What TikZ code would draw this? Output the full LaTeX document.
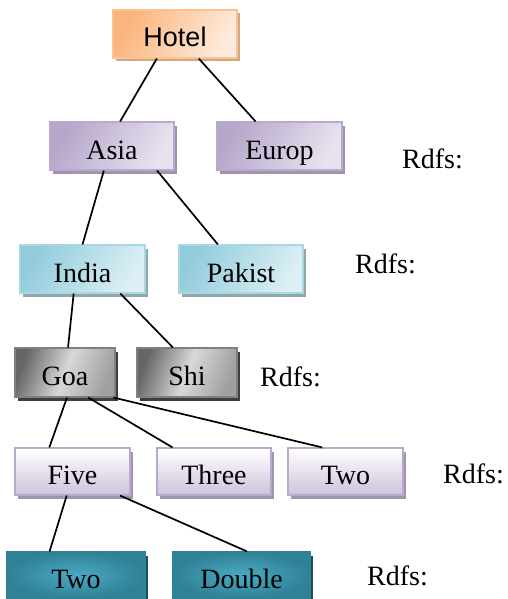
\documentclass[tikz,border=0pt]{standalone}
\usepackage{fontspec}
\setmainfont{Liberation Serif}
\newfontfamily\headsans{Liberation Sans}
\usetikzlibrary{shadows,calc}

% palette
\definecolor{orDark}{HTML}{FAB47C}
\definecolor{orLight}{HTML}{FDEBDD}
\definecolor{orLine}{HTML}{F9C394}
\definecolor{orShade}{HTML}{D3A784}
\definecolor{lvDark}{HTML}{B6A6CA}
\definecolor{lvLight}{HTML}{E8E3EF}
\definecolor{lvLine}{HTML}{B9A9CC}
\definecolor{lvShade}{HTML}{A194B0}
\definecolor{bluDark}{HTML}{92CCDC}
\definecolor{bluLight}{HTML}{DCEFF4}
\definecolor{bluLine}{HTML}{A8D6E3}
\definecolor{bluShade}{HTML}{91A8AF}
\definecolor{gyDark}{HTML}{666666}
\definecolor{gyLight}{HTML}{D8D8D8}
\definecolor{gyLine}{HTML}{808080}
\definecolor{gyShade}{HTML}{3E3E3E}
\definecolor{ltTop}{HTML}{FFFFFF}
\definecolor{ltBot}{HTML}{CEC3DC}
\definecolor{tlOuter}{HTML}{2F8196}
\definecolor{tlInner}{HTML}{4AAAC4}
\definecolor{tlShade}{HTML}{1D4E5B}

\tikzset{
  box/.style={draw, line width=1.1pt, inner sep=0pt, minimum height=48pt,
    text height=26pt, text depth=0pt, font=\fontsize{28}{30}\selectfont},
  shade/.style={drop shadow={shadow xshift=3pt, shadow yshift=-3.5pt,
    fill=#1, opacity=1}},
  orangebox/.style={box, draw=orLine, left color=orDark, right color=orLight,
    shading angle=60, shade=orShade},
  lavbox/.style={box, draw=lvLine, left color=lvDark, right color=lvLight,
    shading angle=60, shade=lvShade},
  bluebox/.style={box, draw=bluLine, left color=bluDark, right color=bluLight,
    shading angle=60, shade=bluShade},
  greybox/.style={box, draw=gyLine, left color=gyDark, right color=gray!75,
    middle color=gyLight, shading angle=70, shade=gyShade},
  palebox/.style={box, draw=lvLine, top color=ltTop, bottom color=ltBot,
    shade=lvShade},
  tealbox/.style={box, draw=tlOuter, inner color=tlInner, outer color=tlOuter,
    shade=tlShade},
  link/.style={line width=1.7pt, black},
  rdfs/.style={anchor=base west, inner sep=0pt, font=\fontsize{28}{30}\selectfont},
}

% edge from a point on the bottom side of #1 to a point on the top side of #3
\newcommand\treelink[4]{%
  \draw[link] ($(#1.south west)!#2!(#1.south east)$) --
              ($(#3.north west)!#4!(#3.north east)$);}

\begin{document}
\begin{tikzpicture}[x=1pt,y=-1pt]
\useasboundingbox (0,0) rectangle (507,599);

% level 0
\node[orangebox, minimum width=124pt, font=\headsans\fontsize{27}{29}\selectfont]
  (hotel) at (175,34) {Hotel};

% level 1
\node[lavbox, minimum width=124pt] (asia)  at (112,146)   {Asia};
\node[lavbox, minimum width=125pt] (europ) at (279.5,146) {Europ};

% level 2
\node[bluebox, minimum width=125pt] (india)  at (82.5,269) {India};
\node[bluebox, minimum width=124pt] (pakist) at (241,269)  {Pakist};

% level 3
\node[greybox, minimum width=100pt, minimum height=49pt] (goa) at (65,372.5)  {Goa};
\node[greybox, minimum width=100pt, minimum height=49pt] (shi) at (187,372.5) {Shi};

% level 4
\node[palebox, minimum width=115pt, minimum height=47pt] (five)  at (72.5,471.5)  {Five};
\node[palebox, minimum width=114pt, minimum height=47pt] (three) at (214,471.5)   {Three};
\node[palebox, minimum width=115pt, minimum height=47pt] (twoA)  at (345.5,471.5) {Two};

% level 5
\node[tealbox, minimum width=138pt, minimum height=46pt] (twoB)   at (76,575)    {Two};
\node[tealbox, minimum width=137pt, minimum height=46pt] (double) at (241.5,575) {Double};

% connectors
\treelink{hotel}{0.355}{asia}{0.565}
\treelink{hotel}{0.69}{europ}{0.31}
\treelink{asia}{0.435}{india}{0.5}
\treelink{asia}{0.86}{pakist}{0.315}
\treelink{india}{0.43}{goa}{0.53}
\treelink{india}{0.8}{shi}{0.36}
\treelink{goa}{0.52}{five}{0.3}
\treelink{goa}{0.73}{three}{0.14}
\treelink{goa}{0.98}{twoA}{0.3}
\treelink{five}{0.45}{twoB}{0.31}
\treelink{five}{0.91}{double}{0.54}

% side labels
\node[rdfs] (r1) at (402,168) {Rdfs:};
\node[rdfs] (r2) at (355,273) {Rdfs:};
\node[rdfs] (r3) at (260,386) {Rdfs:};
\node[rdfs] (r4) at (443,483) {Rdfs:};
\node[rdfs] (r5) at (367,585) {Rdfs:};
\end{tikzpicture}
\end{document}
